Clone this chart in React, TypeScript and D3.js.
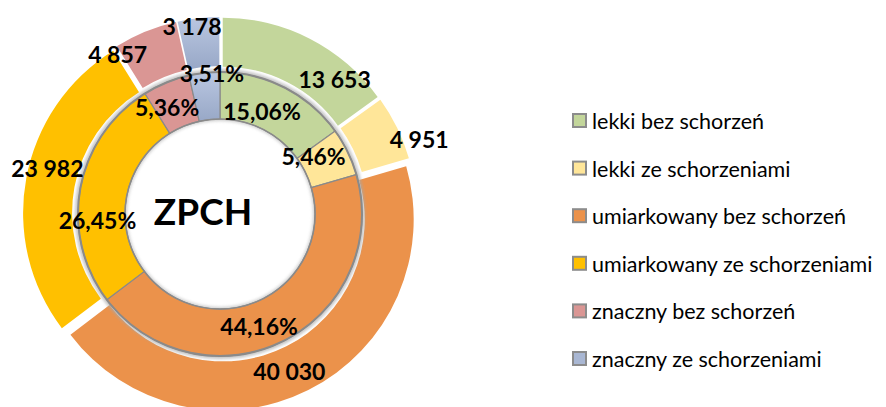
import React from "react";
import * as d3 from "d3";

const categories = [
  "lekki bez schorzeń",
  "lekki ze schorzeniami",
  "umiarkowany bez schorzeń",
  "umiarkowany ze schorzeniami",
  "znaczny bez schorzeń",
  "znaczny ze schorzeniami",
];
const values = [13653, 4951, 40030, 23982, 4857, 3178];
const valueLabels = ["13 653", "4 951", "40 030", "23 982", "4 857", "3 178"];
const percentLabels = ["15,06%", "5,46%", "44,16%", "26,45%", "5,36%", "3,51%"];
const colors = ["#C3D69B", "#FFE699", "#EB924B", "#FFC000", "#DA9694", "url(#blueGrad)"];
const legendColors = ["#C3D69B", "#FFE699", "#EB924B", "#FFC000", "#DA9694", "#A9B7D3"];
const centerTitle = "ZPCH";

const W = 886;
const H = 407;
const cx = 220;
const cy = 214;
const innerR0 = 95;
const innerR1 = 142;
const outerR0 = 142;
const outerR1 = 191;
const explode = 6;

// label nudges (text placement tweaks relative to arc mid-angle positions)
const pctNudge = [[-12, 2], [-13, -6], [-14, 6], [-6, 28], [-8, 3], [5, -23]];
const valNudge = [[36, 19], [44, 0], [-8, 3], [-3, -15], [-37, 0], [-9, -17]];

export default function App() {
  const pie = d3.pie<number>().sort(null).value((d) => d);
  const arcs = pie(values);
  const innerArc = d3.arc<d3.PieArcDatum<number>>().innerRadius(innerR0).outerRadius(innerR1);
  const outerArc = d3.arc<d3.PieArcDatum<number>>().innerRadius(outerR0).outerRadius(outerR1);
  const font = "Lato, 'Noto Sans', sans-serif";

  const mid = (a: d3.PieArcDatum<number>) => (a.startAngle + a.endAngle) / 2;
  const polar = (ang: number, r: number) => [Math.sin(ang) * r, -Math.cos(ang) * r];

  const legendY = d3.scaleLinear().domain([0, categories.length - 1]).range([121, 359]);

  return (
    <svg width={W} height={H} style={{ position: "absolute", left: 0, top: 0, background: "#fff" }}>
      <defs>
        <linearGradient id="blueGrad" x1="0" y1="0" x2="0" y2="1">
          <stop offset="0%" stopColor="#BAC7E1" />
          <stop offset="100%" stopColor="#98A8C7" />
        </linearGradient>
        <filter id="blur" x="-20%" y="-20%" width="140%" height="140%">
          <feGaussianBlur stdDeviation="1.8" />
        </filter>
      </defs>
      <rect width={W} height={H} fill="#fff" />
      <g transform={`translate(${cx},${cy})`}>
        {arcs.map((a, i) => {
          const [dx, dy] = polar(mid(a), explode);
          return (
            <path key={"o" + i} d={outerArc(a) || ""} fill={colors[i]} transform={`translate(${dx},${dy})`} />
          );
        })}
        <circle r={innerR1 + 1} fill="none" stroke="#a8a8a8" strokeWidth={4} opacity={0.7} filter="url(#blur)" />
        <circle r={innerR0} fill="none" stroke="#a8a8a8" strokeWidth={4} opacity={0.55} filter="url(#blur)" />
        {arcs.map((a, i) => (
          <path key={"i" + i} d={innerArc(a) || ""} fill={colors[i]} stroke="#8a8a8a" strokeWidth={1.2} />
        ))}
        <circle r={innerR1} fill="none" stroke="#8a8a8a" strokeWidth={2} />
        <circle r={innerR0} fill="none" stroke="#8a8a8a" strokeWidth={1.5} />
        {arcs.map((a, i) => {
          const [x, y] = polar(mid(a), (innerR0 + innerR1) / 2);
          return (
            <text key={"p" + i} x={x + pctNudge[i][0]} y={y + pctNudge[i][1]} textAnchor="middle"
              dominantBaseline="central" fontFamily={font} fontWeight="bold" fontSize={23} fill="#000">
              {percentLabels[i]}
            </text>
          );
        })}
        {arcs.map((a, i) => {
          const [x, y] = polar(mid(a), (outerR0 + outerR1) / 2 + explode);
          return (
            <text key={"v" + i} x={x + valNudge[i][0]} y={y + valNudge[i][1]} textAnchor="middle"
              dominantBaseline="central" fontFamily={font} fontWeight="bold" fontSize={23} fill="#000">
              {valueLabels[i]}
            </text>
          );
        })}
        <text x={-17} y={-4} textAnchor="middle" dominantBaseline="central" fontFamily={font}
          fontWeight="bold" fontSize={37} fill="#000">
          {centerTitle}
        </text>
      </g>
      <g>
        {categories.map((c, i) => (
          <g key={c} transform={`translate(572,${legendY(i)})`}>
            <rect x={1} y={-7} width={13} height={13} fill={legendColors[i]} stroke="#8c8c8c" strokeWidth={2} />
            <text x={20} y={0} dominantBaseline="central" fontFamily={font} fontSize={21.5} fill="#000">
              {c}
            </text>
          </g>
        ))}
      </g>
    </svg>
  );
}
